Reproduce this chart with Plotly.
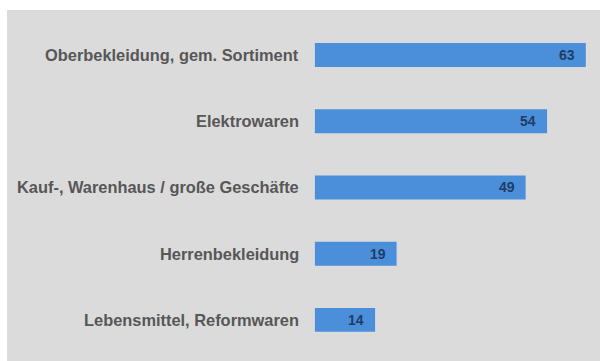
import plotly.graph_objects as go

# Categories (top to bottom) and their values
categories = [
    "Oberbekleidung, gem. Sortiment",
    "Elektrowaren",
    "Kauf-, Warenhaus / große Geschäfte",
    "Herrenbekleidung",
    "Lebensmittel, Reformwaren",
]
values = [63, 54, 49, 19, 14]

BAR_COLOR = "#4b8fda"
BG_GRAY = "#dbdbdb"
LABEL_COLOR = "#575757"
VALUE_COLOR = "#1f3d66"
FONT = "Liberation Sans, Arial, sans-serif"

idx = list(range(len(categories)))

fig = go.Figure(
    go.Bar(
        x=values,
        y=idx,
        orientation="h",
        width=0.36,
        marker=dict(color=BAR_COLOR, line=dict(width=0)),
        hoverinfo="skip",
    )
)

annotations = []
for i, (cat, val) in enumerate(zip(categories, values)):
    # category name to the left of the bar
    annotations.append(dict(
        x=0, y=i, xref="x", yref="y", text=cat, showarrow=False,
        xanchor="right", yanchor="middle", xshift=-14,
        font=dict(family=FONT, size=16.4, color=LABEL_COLOR, weight="bold"),
    ))
    # value inside the bar, near its end
    annotations.append(dict(
        x=val, y=i, xref="x", yref="y", text=str(val), showarrow=False,
        xanchor="right", yanchor="middle", xshift=-9,
        font=dict(family=FONT, size=14, color=VALUE_COLOR, weight="bold"),
    ))

fig.update_layout(
    width=600, height=361,
    margin=dict(l=7, r=0, t=10, b=0, pad=0),
    paper_bgcolor="white",
    plot_bgcolor=BG_GRAY,
    showlegend=False,
    annotations=annotations,
    xaxis=dict(range=[-71.6, 66.3], visible=False, fixedrange=True),
    yaxis=dict(range=[4.62, -0.68], visible=False, fixedrange=True),
)

fig.write_html("out.html", config={"displayModeBar": False})
